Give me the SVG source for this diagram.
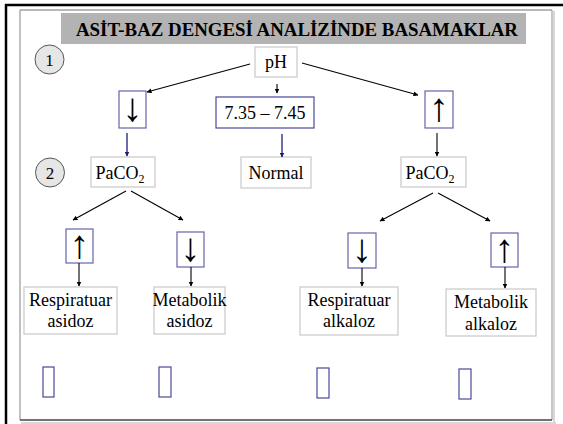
<svg xmlns="http://www.w3.org/2000/svg" width="563" height="424" viewBox="0 0 563 424">
<style>
.t{font-family:"Liberation Serif","Times New Roman",serif;font-size:18px;fill:#000;text-anchor:middle}
.ar{font-family:"Liberation Serif","Times New Roman",serif;font-size:40px;fill:#000;text-anchor:middle}
.g{fill:#fff;stroke:#c8c8c8;stroke-width:1.2}
.b{fill:#fff;stroke:#4a4a98;stroke-width:1.2}
.a{fill:#fff;stroke:#6464aa;stroke-width:1.2}
.c{fill:#e6e6e6;stroke:#555;stroke-width:1}
.k{stroke:#000;stroke-width:1.1;fill:none}
.u{stroke:#1c1c78;stroke-width:1.3;fill:none}
.s{fill:#fff;stroke:#4a4a98;stroke-width:1.2}
</style>
<defs>
<marker id="mk" viewBox="0 0 10 10" refX="9" refY="5" markerWidth="5" markerHeight="5" orient="auto" markerUnits="userSpaceOnUse"><path d="M0,0 L10,5 L0,10 z" fill="#000"/></marker>
<marker id="mb" viewBox="0 0 10 10" refX="9" refY="5" markerWidth="5" markerHeight="5" orient="auto" markerUnits="userSpaceOnUse"><path d="M0,0 L10,5 L0,10 z" fill="#1c1c78"/></marker>
</defs>
<rect width="563" height="424" fill="#fff"/>
<g id="frame">
<line x1="21" y1="423" x2="556" y2="423" stroke="#d8d8d8" stroke-width="2"/>
<line x1="554" y1="11" x2="554" y2="423" stroke="#d8d8d8" stroke-width="2"/>
<line x1="20" y1="10" x2="552" y2="10" stroke="#a0a0a0" stroke-width="1.3"/>
<line x1="20" y1="10" x2="20" y2="420" stroke="#a0a0a0" stroke-width="1.3"/>
<line x1="552" y1="10" x2="552" y2="420" stroke="#a8a8a8" stroke-width="1.3"/>
<line x1="20" y1="420" x2="552" y2="420" stroke="#444" stroke-width="1.5"/>
<line x1="5" y1="5" x2="563" y2="5" stroke="#000" stroke-width="2.5"/>
<line x1="6" y1="4" x2="6" y2="424" stroke="#000" stroke-width="2.5"/>
</g>
<g id="title">
<rect x="61" y="13" width="465" height="31" fill="#b3b3b3"/>
<text class="t" x="297" y="36" style="font-weight:bold;font-size:18.5px" textLength="442" lengthAdjust="spacingAndGlyphs">ASİT-BAZ DENGESİ ANALİZİNDE BASAMAKLAR</text>
</g>
<g id="step1"><circle class="c" cx="49.5" cy="59.5" r="14.5"/><text class="t" x="49.5" y="66" style="font-size:17px">1</text></g>
<g id="step2"><circle class="c" cx="50" cy="172.5" r="14.5"/><text class="t" x="50" y="179" style="font-size:17px">2</text></g>
<g id="ph"><rect class="g" x="255" y="47" width="42" height="30"/><text class="t" x="276" y="68">pH</text></g>
<g id="range"><rect class="b" x="216" y="97" width="98" height="31"/><text class="t" x="265" y="119">7.35 – 7.45</text></g>
<g id="phdown"><rect class="a" x="119" y="91" width="27" height="37"/><text class="ar" x="132.5" y="121.4">↓</text></g>
<g id="phup"><rect class="a" x="425" y="91" width="28" height="37"/><text class="ar" x="439" y="121.4">↑</text></g>
<g id="paco2l"><rect class="g" x="91" y="157" width="64" height="30"/><text class="t" x="120" y="179">PaCO<tspan dy="4" style="font-size:12px">2</tspan></text></g>
<g id="normal"><rect class="g" x="241" y="157" width="70" height="31"/><text class="t" x="276" y="179">Normal</text></g>
<g id="paco2r"><rect class="g" x="401" y="157" width="65" height="30"/><text class="t" x="430" y="179">PaCO<tspan dy="4" style="font-size:12px">2</tspan></text></g>
<g id="up1"><rect class="a" x="66" y="229" width="27" height="34"/><text class="ar" x="79.5" y="257.9">↑</text></g>
<g id="down2"><rect class="a" x="177" y="232" width="27" height="35"/><text class="ar" x="190.5" y="261.4">↓</text></g>
<g id="down3"><rect class="a" x="348" y="233" width="28" height="35"/><text class="ar" x="362" y="262.4">↓</text></g>
<g id="up4"><rect class="a" x="491" y="233" width="27" height="34"/><text class="ar" x="504.5" y="261.9">↑</text></g>
<g id="respasidoz"><rect class="g" x="24" y="287" width="93" height="47"/><text class="t" x="70.5" y="306">Respiratuar</text><text class="t" x="70.5" y="327">asidoz</text></g>
<g id="metasidoz"><rect class="g" x="154" y="287" width="71" height="47"/><text class="t" x="189.5" y="306">Metabolik</text><text class="t" x="189.5" y="327">asidoz</text></g>
<g id="respalkaloz"><rect class="g" x="300" y="287" width="98" height="48"/><text class="t" x="349" y="306">Respiratuar</text><text class="t" x="349" y="327">alkaloz</text></g>
<g id="metalkaloz"><rect class="g" x="446" y="289" width="90" height="47"/><text class="t" x="491" y="308">Metabolik</text><text class="t" x="491" y="330">alkaloz</text></g>
<g id="empty">
<rect class="s" x="43" y="367" width="11" height="30"/>
<rect class="s" x="159" y="367" width="12" height="30"/>
<rect class="s" x="317" y="368" width="12" height="30"/>
<rect class="s" x="459" y="369" width="12" height="30"/>
</g>
<g id="connectors">
<line class="k" x1="250" y1="64" x2="147" y2="92" marker-end="url(#mk)"/>
<line class="k" x1="302" y1="63" x2="418" y2="95" marker-end="url(#mk)"/>
<line class="k" x1="277" y1="84" x2="277" y2="93" marker-end="url(#mk)"/>
<line class="u" x1="127" y1="133" x2="127" y2="156" marker-end="url(#mb)"/>
<line class="u" x1="282" y1="134" x2="282" y2="157" marker-end="url(#mb)"/>
<line class="k" x1="437" y1="133" x2="437" y2="156" marker-end="url(#mk)"/>
<line class="k" x1="126" y1="191" x2="73" y2="220" marker-end="url(#mk)"/>
<line class="k" x1="131" y1="191" x2="183" y2="220" marker-end="url(#mk)"/>
<line class="k" x1="433" y1="193" x2="380" y2="221" marker-end="url(#mk)"/>
<line class="k" x1="438" y1="193" x2="490" y2="221" marker-end="url(#mk)"/>
<line class="k" x1="79" y1="263" x2="79" y2="286" marker-end="url(#mk)"/>
<line class="k" x1="191" y1="267" x2="191" y2="286" marker-end="url(#mk)"/>
<line class="k" x1="362" y1="268" x2="362" y2="286" marker-end="url(#mk)"/>
<line class="k" x1="505" y1="267" x2="505" y2="288" marker-end="url(#mk)"/>
</g>
</svg>
